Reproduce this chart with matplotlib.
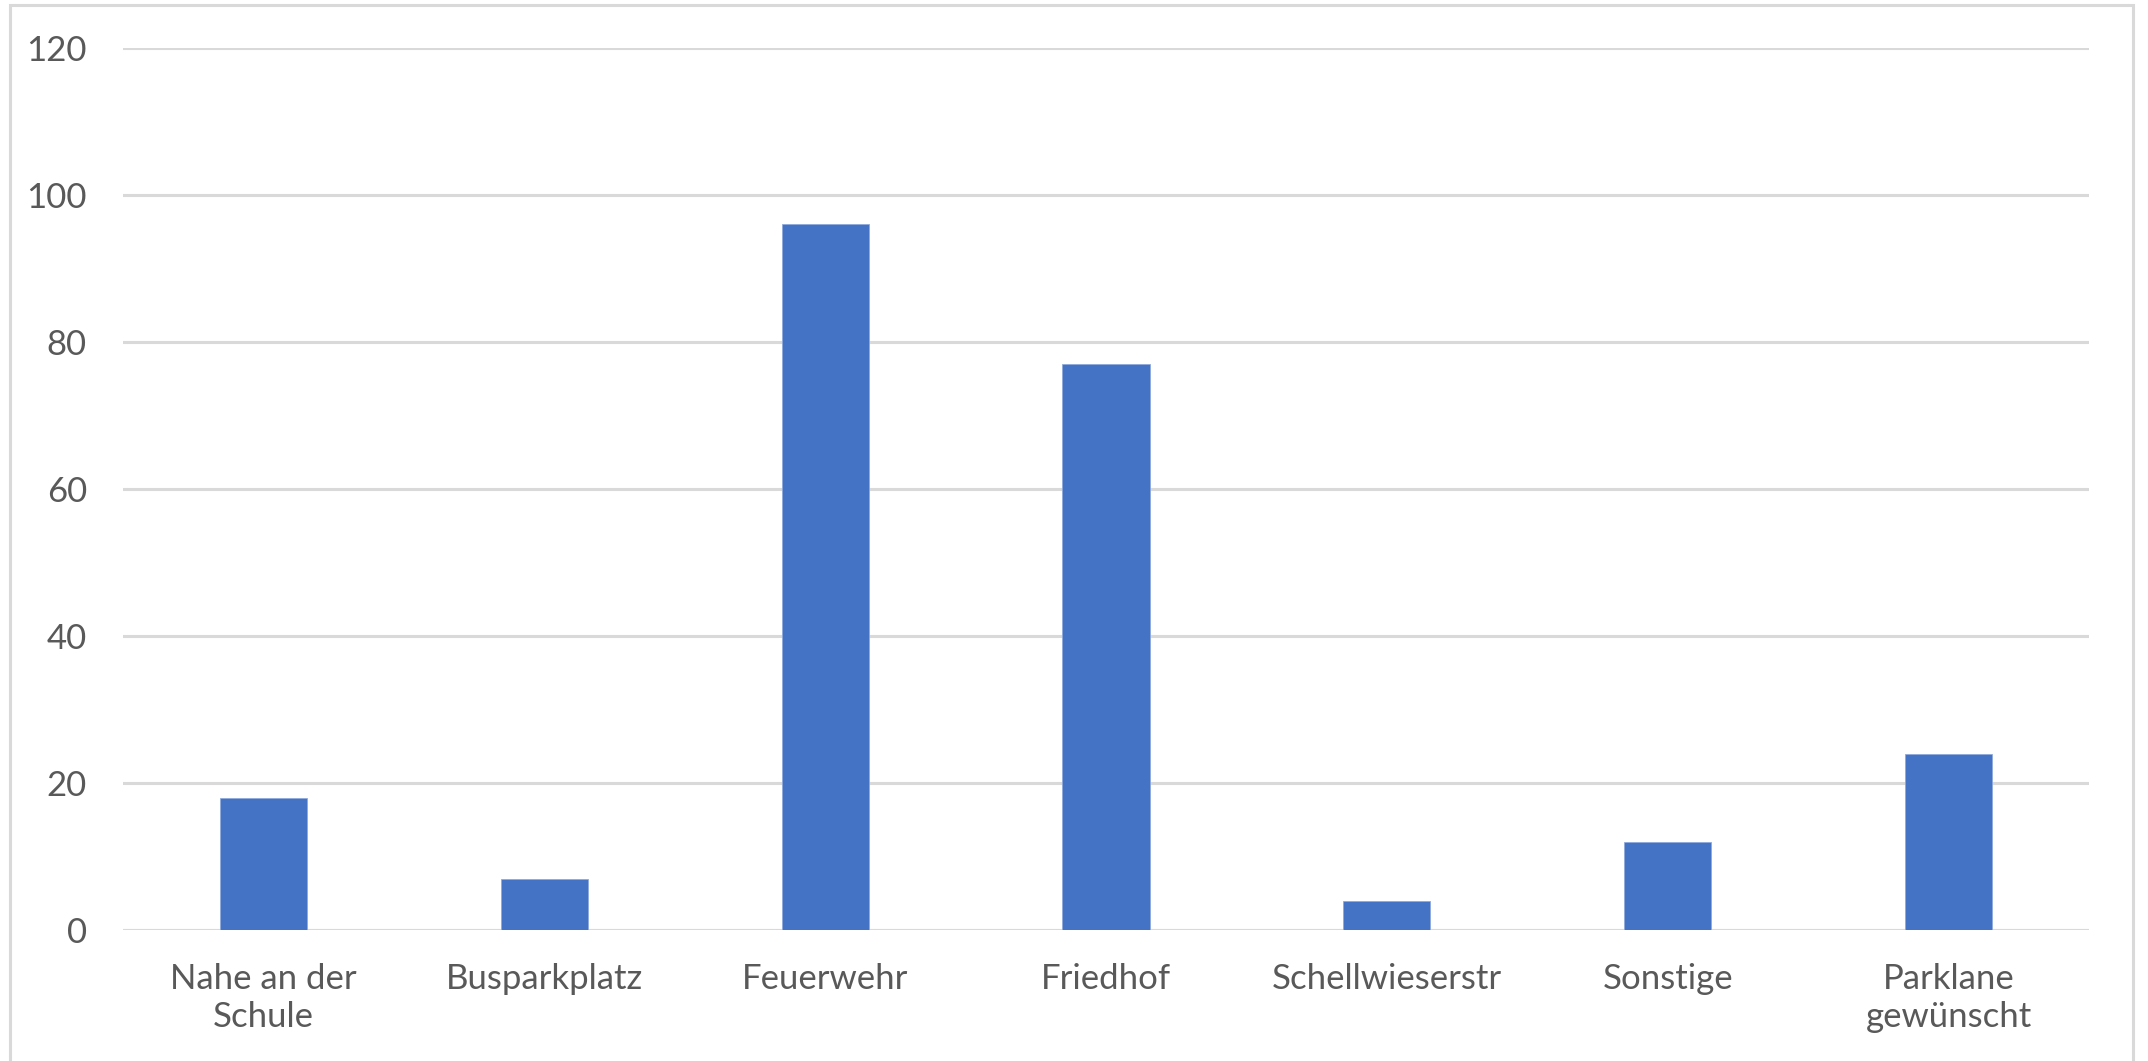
import matplotlib.pyplot as plt
from matplotlib.patches import Rectangle

# Daten
kategorien = ["Nahe an der\nSchule", "Busparkplatz", "Feuerwehr", "Friedhof",
              "Schellwieserstr", "Sonstige", "Parklane\ngewünscht"]
werte = [18, 7, 96, 77, 4, 12, 24]
y_ticks = [0, 20, 40, 60, 80, 100, 120]

plt.rcParams['font.family'] = ['Lato', 'DejaVu Sans']

W, H = 2148, 1061
fig = plt.figure(figsize=(W / 100, H / 100), dpi=100)
ax = fig.add_axes([123 / W, 1 - 930 / H, (2089 - 123) / W, (930 - 48) / H])

# Rahmen um das Diagramm (unten abgeschnitten)
fig.patches.append(Rectangle((10 / W, -0.05), (2133 - 10) / W, 1.05 - 5 / H,
                             transform=fig.transFigure, fill=False,
                             edgecolor='#d9d9d9', linewidth=2.2))

x = range(len(kategorien))
ax.bar(x, werte, width=0.31, color='#4472C4', edgecolor='#8faadc',
       linewidth=0.6, zorder=3)

ax.set_xlim(-0.5, len(kategorien) - 0.5)
ax.set_ylim(0, 120)
ax.set_yticks(y_ticks)
ax.set_xticks(list(x))
ax.set_xticklabels(kategorien)

for s in ax.spines.values():
    s.set_visible(False)
ax.grid(axis='y', color='#d9d9d9', linewidth=2.2, zorder=0)
ax.axhline(0, color='#d9d9d9', linewidth=2.2, zorder=2)
ax.tick_params(axis='both', length=0, labelsize=25, labelcolor='#595959')
ax.tick_params(axis='y', pad=26)
ax.tick_params(axis='x', pad=24)

plt.savefig('out.png', dpi=100)
